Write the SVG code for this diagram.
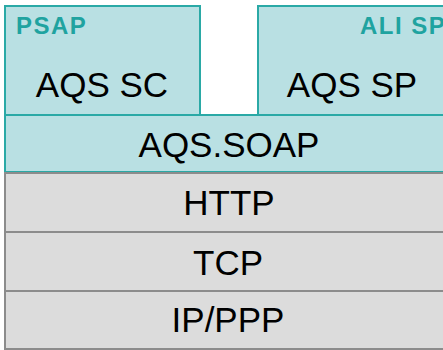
<svg xmlns="http://www.w3.org/2000/svg" width="443" height="350" viewBox="0 0 443 350">
<style>
.t{fill:#b9e0e3;stroke:#2aa9a6;stroke-width:2}
.g{fill:#dcdcdc;stroke:#8c8c8c;stroke-width:2}
.lbl{font-family:"Liberation Sans",Arial,sans-serif;font-size:35px;fill:#000;text-anchor:middle}
.hd{font-family:"Liberation Sans",Arial,sans-serif;font-size:24px;font-weight:bold;fill:#1fa3a0;letter-spacing:1.5px}
</style>
<rect width="443" height="350" fill="#fff"/>
<g id="psap">
<rect class="t" x="5" y="6" width="195" height="109"/>
<text class="hd" x="16" y="34">PSAP</text>
<text class="lbl" x="102" y="97">AQS SC</text>
</g>
<g id="alisp">
<rect class="t" x="258" y="6" width="200" height="109"/>
<text class="hd" x="360" y="34">ALI SP</text>
<text class="lbl" x="352" y="97">AQS SP</text>
</g>
<g id="soap">
<rect class="t" x="5" y="115" width="446" height="57"/>
<text class="lbl" x="229" y="157">AQS.SOAP</text>
</g>
<g id="http">
<rect class="g" x="5" y="173" width="446" height="59"/>
<text class="lbl" x="229" y="215">HTTP</text>
</g>
<g id="tcp">
<rect class="g" x="5" y="232" width="446" height="59"/>
<text class="lbl" x="228" y="275">TCP</text>
</g>
<g id="ip">
<rect class="g" x="5" y="291" width="446" height="58"/>
<text class="lbl" x="228" y="332">IP/PPP</text>
</g>
<g id="connectors"></g>
</svg>
